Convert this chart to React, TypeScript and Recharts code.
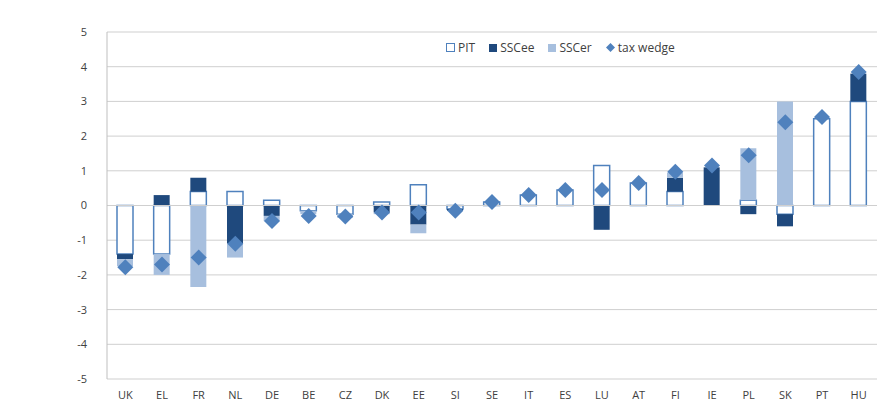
import React from "react";
import { ComposedChart, Bar, Scatter, XAxis, YAxis, CartesianGrid, ReferenceLine } from "recharts";

const countries = ["UK","EL","FR","NL","DE","BE","CZ","DK","EE","SI","SE","IT","ES","LU","AT","FI","IE","PL","SK","PT","HU"];
const pit =    [-1.4,-1.4,0.4,0.4,0.15,-0.15,-0.25,0.1,0.6,-0.1,0.1,0.3,0.45,1.15,0.65,0.4,0,0.15,-0.25,2.5,3.0];
const sscee =  [-0.15,0.3,0.4,-1.1,-0.3,0,0,-0.2,-0.55,-0.05,0,0,0,-0.7,0,0.4,1.1,-0.25,-0.35,0,0.8];
const sscer =  [-0.2,-0.6,-2.35,-0.4,-0.15,-0.1,-0.1,-0.05,-0.25,0,0,0,0,0,0,0.15,0,1.5,3.0,0,0];
const wedge =  [-1.78,-1.7,-1.5,-1.1,-0.45,-0.3,-0.32,-0.2,-0.2,-0.15,0.1,0.3,0.45,0.45,0.65,0.97,1.15,1.45,2.4,2.55,3.85];
const yTicks = [-5,-4,-3,-2,-1,0,1,2,3,4,5];

const data = countries.map((c, i) => ({ c, pit: pit[i], sscee: sscee[i], sscer: sscer[i], wedge: wedge[i] }));

const BLUE = "#4f81bd";
const DARK = "#1f497d";
const LIGHT = "#a7bfde";

const Diamond = (p: any) => {
  const { cx, cy } = p;
  if (cx == null || cy == null) return null;
  const r = 8;
  return <polygon points={`${cx},${cy - r} ${cx + r},${cy} ${cx},${cy + r} ${cx - r},${cy}`} fill={BLUE} />;
};

const font = "'Open Sans', 'Liberation Sans', Arial, sans-serif";

export default function App() {
  return (
    <div style={{ position: "absolute", left: 0, top: 0, width: 877, height: 403, background: "#fff", fontFamily: font }}>
      <ComposedChart width={877} height={403} data={data} stackOffset="sign"
        margin={{ top: 32, right: 0, bottom: 0, left: 50 }} barSize={16}>
        <CartesianGrid vertical={false} stroke="#cfcfcf" />
        <XAxis dataKey="c" height={24} axisLine={false} tickLine={false}
          tick={{ fontSize: 11, fill: "#404040", fontFamily: font }} tickMargin={6} />
        <YAxis domain={[-5, 5]} ticks={yTicks} width={57} axisLine={{ stroke: "#bfbfbf" }} tickLine={false}
          tick={{ fontSize: 11, fill: "#404040", fontFamily: font }} tickMargin={14} interval={0} />
        <ReferenceLine y={0} stroke="#cfcfcf" />
        <Bar dataKey="pit" stackId="a" fill="#ffffff" stroke={BLUE} strokeWidth={1.5} isAnimationActive={false} />
        <Bar dataKey="sscee" stackId="a" fill={DARK} isAnimationActive={false} />
        <Bar dataKey="sscer" stackId="a" fill={LIGHT} isAnimationActive={false} />
        <Scatter dataKey="wedge" shape={Diamond} isAnimationActive={false} />
      </ComposedChart>
      <div style={{ position: "absolute", left: 446, top: 39, display: "flex", gap: 14, fontSize: 12, color: "#404040", alignItems: "center" }}>
        <span style={{ display: "flex", alignItems: "center", gap: 3 }}><span style={{ width: 7, height: 7, border: `1px solid ${BLUE}`, background: "#fff", display: "inline-block" }} />PIT</span>
        <span style={{ display: "flex", alignItems: "center", gap: 3 }}><span style={{ width: 8, height: 8, background: DARK, display: "inline-block" }} />SSCee</span>
        <span style={{ display: "flex", alignItems: "center", gap: 3 }}><span style={{ width: 8, height: 8, background: LIGHT, display: "inline-block" }} />SSCer</span>
        <span style={{ display: "flex", alignItems: "center", gap: 3 }}><svg width="9" height="9"><polygon points="4.5,0 9,4.5 4.5,9 0,4.5" fill={BLUE} /></svg>tax wedge</span>
      </div>
    </div>
  );
}
